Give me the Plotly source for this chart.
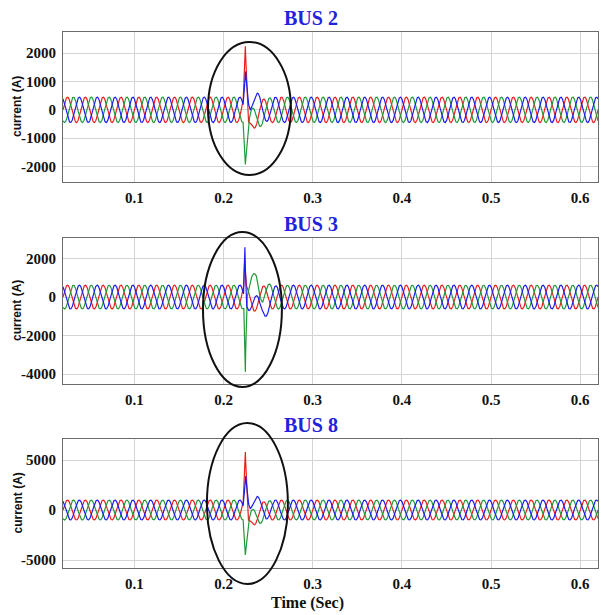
import numpy as np
import plotly.graph_objects as go
from plotly.subplots import make_subplots

# ---- data ----
buses = ["BUS 2", "BUS 3", "BUS 8"]
freq_hz = 50
t_start, t_end = 0.02, 0.62
amplitude = [450, 620, 1000]           # steady-state peak current (A)
phase_colors = ["#ee1c1c", "#1f9a3a", "#1c1cf0"]
phase_shift_deg = [0, -120, 120]

# fault transient offsets (time s, offset A) per bus, per phase (red, green, blue)
fault_red = [
    ([0.2220, 0.2245, 0.2262, 0.2280, 0.2320, 0.2400, 0.2550], [0, 1800, 200, -700, -250, -100, 0]),
    ([0.2225, 0.2238, 0.2250, 0.2300, 0.2500], [0, 1470, 0, -150, 0]),
    ([0.2220, 0.2245, 0.2262, 0.2280, 0.2320, 0.2400, 0.2550], [0, 4800, 500, -1600, -600, -250, 0]),
]
fault_green = [
    ([0.2220, 0.2245, 0.2270, 0.2300, 0.2350, 0.2450, 0.2550], [0, -1650, -900, -500, -250, -80, 0]),
    ([0.2228, 0.2245, 0.2258, 0.2300, 0.2368, 0.2440, 0.2550], [0, -3500, 0, 200, 1150, 200, 0]),
    ([0.2220, 0.2245, 0.2270, 0.2300, 0.2350, 0.2450, 0.2550], [0, -3870, -2100, -1200, -600, -200, 0]),
]
fault_blue = [
    ([0.2220, 0.2248, 0.2270, 0.2300, 0.2350, 0.2450, 0.2550], [0, 1550, 800, 400, 180, 60, 0]),
    ([0.2225, 0.2240, 0.2252, 0.2330, 0.2412, 0.2500, 0.2600], [0, 2720, 0, -200, -800, -250, 0]),
    ([0.2220, 0.2250, 0.2270, 0.2300, 0.2350, 0.2450, 0.2550], [0, 3900, 2000, 1000, 450, 150, 0]),
]

y_ranges = [[-2550, 2750], [-4520, 3070], [-5800, 7100]]
y_ticks = [[-2000, -1000, 0, 1000, 2000], [-4000, -2000, 0, 2000], [-5000, 0, 5000]]
x_ticks = [0.1, 0.2, 0.3, 0.4, 0.5, 0.6]
ellipse_x = [[0.1826, 0.2756], [0.1770, 0.2655], [0.1814, 0.2722]]   # seconds
ellipse_px_y = [[42, 175], [232, 387], [423, 584]]                     # pixel rows

# ---- figure ----
W, H = 602, 615
m_l, m_r, m_t, m_b = 63, 4, 32, 47
plot_h = H - m_t - m_b
panel_px = [(32, 182), (238, 384), (439, 568)]


def py(p):
    return (H - m_b - p) / plot_h


fig = make_subplots(rows=3, cols=1)
t = np.arange(t_start, t_end + 1e-9, 0.0001)
w = 2 * np.pi * freq_hz
faults = [fault_red, fault_green, fault_blue]

for i in range(3):
    for k in range(3):
        ft, fv = faults[k][i]
        y = amplitude[i] * np.sin(w * t + np.deg2rad(phase_shift_deg[k])) + np.interp(t, ft, fv, left=0, right=0)
        fig.add_trace(go.Scatter(x=t, y=y, mode="lines", line=dict(color=phase_colors[k], width=1.2),
                                 showlegend=False, hoverinfo="skip"), row=i + 1, col=1)

axis_common = dict(showline=True, linecolor="#6b6b6b", linewidth=1, mirror=True,
                   gridcolor="#d4d4d4", gridwidth=1, zeroline=False, ticks="",
                   tickfont=dict(family="Liberation Serif", size=15, color="#111", weight="bold"))

for i in range(3):
    top, bot = panel_px[i]
    dom = [py(bot), py(top)]
    xa = "xaxis" if i == 0 else f"xaxis{i+1}"
    ya = "yaxis" if i == 0 else f"yaxis{i+1}"
    fig.layout[xa].update(range=[t_start, t_end], tickvals=x_ticks, ticktext=[str(v) for v in x_ticks],
                          ticklabelstandoff=2, **axis_common)
    fig.layout[ya].update(range=y_ranges[i], tickvals=y_ticks[i], ticktext=[str(v) for v in y_ticks[i]],
                          domain=dom, ticklabelstandoff=3, **axis_common)
    # title
    fig.add_annotation(text=buses[i], xref="paper", yref="paper", x=(311 - m_l) / (W - m_l - m_r),
                       y=py(panel_px[i][0] - 14), showarrow=False, xanchor="center", yanchor="middle",
                       font=dict(family="Liberation Serif", size=20, color="#2222dd", weight="bold"))
    # y label
    fig.add_annotation(text="current (A)", xref="paper", yref="paper", x=(17 - m_l) / (W - m_l - m_r),
                       y=py((top + bot) / 2), showarrow=False, textangle=-90, xanchor="center",
                       yanchor="middle",
                       font=dict(family="Liberation Sans", size=12, color="#111", weight="bold"))
    # ellipse around the fault
    xref = "x" if i == 0 else f"x{i+1}"
    fig.add_shape(type="circle", xref=xref, yref="paper", x0=ellipse_x[i][0], x1=ellipse_x[i][1],
                  y0=py(ellipse_px_y[i][1]), y1=py(ellipse_px_y[i][0]),
                  line=dict(color="#111", width=2))

fig.add_annotation(text="Time (Sec)", xref="paper", yref="paper", x=(307 - m_l) / (W - m_l - m_r),
                   y=py(603), showarrow=False, xanchor="center", yanchor="middle",
                   font=dict(family="Liberation Serif", size=16, color="#111", weight="bold"))

fig.update_layout(width=W, height=H, margin=dict(l=m_l, r=m_r, t=m_t, b=m_b),
                  plot_bgcolor="white", paper_bgcolor="white", showlegend=False)
fig.write_html("out.html")
